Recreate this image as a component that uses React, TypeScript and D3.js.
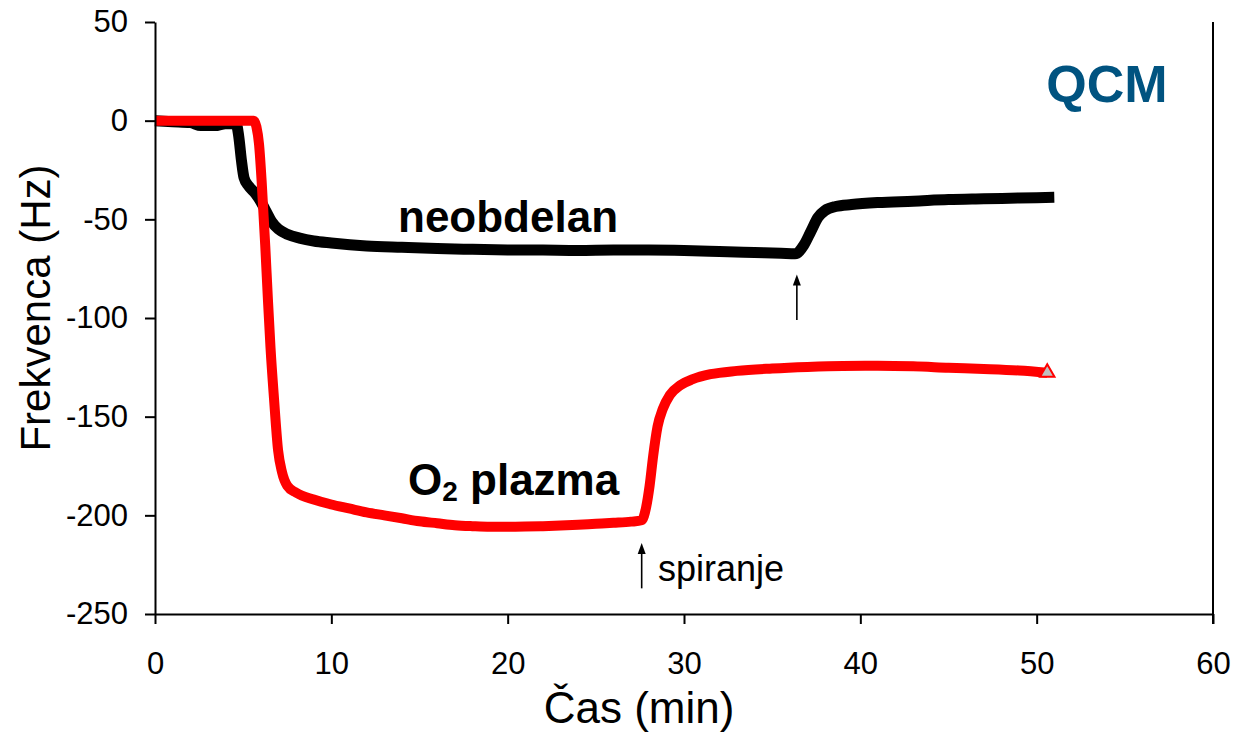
import React, { useEffect, useRef } from 'react';
import * as d3 from 'd3';

// time (min) and frequency shift (Hz)
const neobdelanTime = [0, 1, 2, 2.6, 3.4, 4.0, 4.6, 4.75, 4.9, 5.05, 5.3, 5.7, 6.0, 6.3, 6.6, 7.0, 7.5, 8.2, 9.0, 10, 12, 14, 16, 18, 20, 22, 24, 26, 28, 30, 32, 34, 35.5, 36.3, 36.8, 37.2, 37.6, 38.0, 38.6, 39.5, 41, 43, 45, 47, 49, 51];
const neobdelanFreq = [0, -0.5, -1, -2.5, -2.5, -1.5, -1.5, -8, -20, -29, -33, -37, -41, -46, -51, -55, -57.5, -59.5, -61, -62, -63.5, -64.2, -64.8, -65.2, -65.5, -65.6, -65.8, -65.6, -65.6, -65.8, -66.3, -66.8, -67.2, -67.5, -63, -56, -49, -45.5, -43.5, -42.5, -41.5, -40.8, -40, -39.6, -39.2, -38.8];

const plazmaTime = [0, 2, 4, 5.6, 5.75, 5.9, 6.05, 6.25, 6.4, 6.55, 6.75, 6.98, 7.2, 7.5, 8.0, 9, 10, 11, 12, 13, 14, 15, 16, 17, 18, 19, 20, 21, 22, 23, 24, 25, 26, 27, 27.6, 27.85, 28.05, 28.25, 28.5, 28.8, 29.2, 29.8, 30.5, 31.5, 33, 35, 37, 39, 41, 43, 45, 47, 49, 50.6];
const plazmaFreq = [0, 0, 0, 0, -3, -12, -31, -63, -90, -115, -141, -167, -178, -185, -188.5, -192, -194.5, -196.5, -198.5, -200, -201.5, -203, -204, -205, -205.5, -205.8, -205.8, -205.7, -205.5, -205.2, -204.8, -204.3, -203.8, -203.2, -202.5, -196, -185, -170, -155, -146, -139, -134, -131, -128.5, -126.8, -125.6, -124.8, -124.3, -124.2, -124.5, -125.2, -125.8, -126.6, -127.7];

const xTicks = [0, 10, 20, 30, 40, 50, 60];
const yTicks = [50, 0, -50, -100, -150, -200, -250];

// rinse arrows: [time, from Hz, to Hz]
const arrows = [
  [36.4, -101, -78],
  [27.6, -237, -214],
];

const width = 1234;
const height = 734;
const margin = { top: 22, right: 21, bottom: 120, left: 155 };
const font = '"Liberation Sans", Arial, sans-serif';

const App = () => {
  const xAxisRef = useRef<SVGGElement>(null);
  const yAxisRef = useRef<SVGGElement>(null);

  const innerW = width - margin.left - margin.right;
  const innerH = height - margin.top - margin.bottom;

  const x = d3.scaleLinear().domain([0, 60]).range([0, innerW]);
  const y = d3.scaleLinear().domain([-250, 50]).range([innerH, 0]);

  const line = d3.line<[number, number]>()
    .x((d) => x(d[0]))
    .y((d) => y(d[1]))
    .curve(d3.curveMonotoneX);

  const blackPts = neobdelanTime.map((t, i) => [t, neobdelanFreq[i]] as [number, number]);
  const redPts = plazmaTime.map((t, i) => [t, plazmaFreq[i]] as [number, number]);
  const last = redPts[redPts.length - 1];
  const tri = d3.symbol().type(d3.symbolTriangle).size(90)();

  useEffect(() => {
    if (xAxisRef.current) {
      const g = d3.select(xAxisRef.current);
      g.call(d3.axisBottom(x).tickValues(xTicks).tickSize(10).tickSizeOuter(0).tickPadding(28).tickFormat((d) => String(d)));
      g.selectAll('text').attr('font-size', 31).attr('font-family', font).attr('fill', '#000');
      g.selectAll('line, path').attr('stroke', '#000').attr('stroke-width', 2);
    }
    if (yAxisRef.current) {
      const g = d3.select(yAxisRef.current);
      g.call(d3.axisLeft(y).tickValues(yTicks).tickSize(10).tickSizeOuter(0).tickPadding(17).tickFormat((d) => String(d)));
      g.selectAll('text').attr('font-size', 31).attr('font-family', font).attr('fill', '#000');
      g.selectAll('line, path').attr('stroke', '#000').attr('stroke-width', 2);
    }
  }, []);

  return (
    <svg width={width} height={height} style={{ position: 'absolute', left: 0, top: 0, background: '#fff' }}>
      <g transform={`translate(${margin.left},${margin.top})`}>
        {/* right frame line */}
        <line x1={innerW} x2={innerW} y1={0} y2={innerH + 10} stroke="#000" strokeWidth={2} />

        <path d={line(blackPts) || ''} fill="none" stroke="#000" strokeWidth={11} strokeLinejoin="round" />
        <path d={line(redPts) || ''} fill="none" stroke="#ff0000" strokeWidth={10} strokeLinejoin="round" />
        <path d={tri || ''} transform={`translate(${x(last[0])},${y(last[1])})`} fill="#c0c0c0" stroke="#ff0000" strokeWidth={2} />

        {arrows.map((a, i) => {
          const ax = x(a[0]);
          const y0 = y(a[1]);
          const y1 = y(a[2]);
          return (
            <g key={i}>
              <line x1={ax} x2={ax} y1={y0} y2={y1 + 8} stroke="#000" strokeWidth={1.6} />
              <path d={`M${ax},${y1} L${ax - 4},${y1 + 11} L${ax + 4},${y1 + 11} Z`} fill="#000" />
            </g>
          );
        })}

        <g ref={xAxisRef} transform={`translate(0,${innerH})`} />
        <g ref={yAxisRef} />
      </g>

      <text x={1107} y={102} textAnchor="middle" fontFamily={font} fontWeight="bold" fontSize={52} fill="#005380">QCM</text>
      <text x={398} y={232} fontFamily={font} fontWeight="bold" fontSize={44} fill="#000">neobdelan</text>
      <text x={408} y={495} fontFamily={font} fontWeight="bold" fontSize={44} fill="#000">
        O<tspan fontSize={28} dy={6}>2</tspan><tspan dy={-6}> plazma</tspan>
      </text>
      <text x={658} y={581} fontFamily={font} fontSize={36} fill="#000">spiranje</text>

      <text transform="translate(50,308) rotate(-90)" textAnchor="middle" fontFamily={font} fontSize={42} fill="#000">Frekvenca (Hz)</text>
      <text x={639} y={723} textAnchor="middle" fontFamily={font} fontSize={44} fill="#000">Čas (min)</text>
    </svg>
  );
};

export default App;
